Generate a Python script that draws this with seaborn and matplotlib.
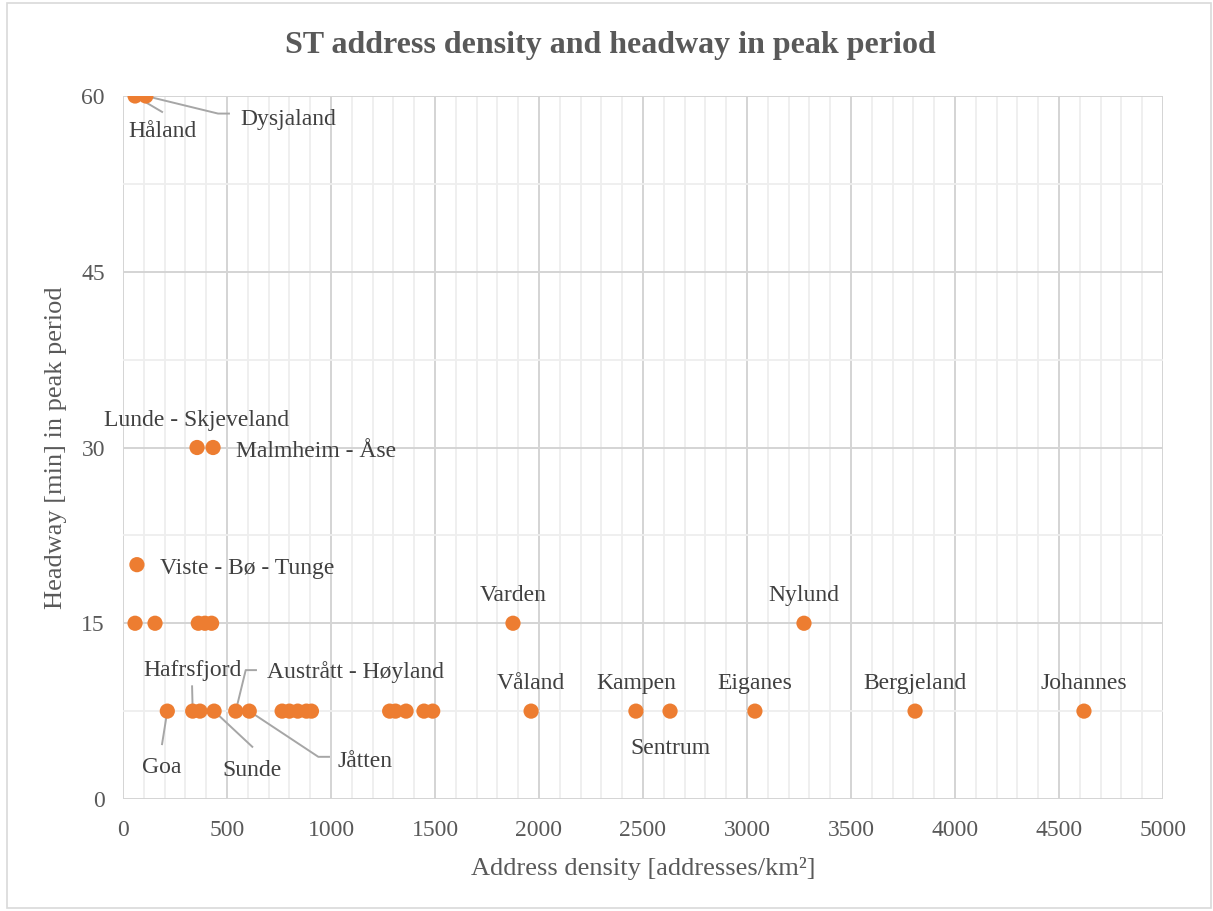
import matplotlib
matplotlib.use("Agg")
import matplotlib.pyplot as plt
from matplotlib.ticker import MultipleLocator
from matplotlib.patches import Rectangle
import seaborn as sns
import pandas as pd

# Zones: address density [addresses/km2] and peak-period headway [min]
zone = ["Håland", "Dysjaland",
        "Lunde - Skjeveland", "Malmheim - Åse",
        "Viste - Bø - Tunge",
        "", "", "", "", "", "Varden", "Nylund",
        "Goa", "Hafrsfjord", "", "Sunde", "Austrått - Høyland", "Jåtten",
        "", "", "", "", "", "", "", "", "", "",
        "Våland", "Kampen", "Sentrum", "Eiganes", "Bergjeland", "Johannes"]
density = [58, 110,
           356, 433,
           67,
           58, 154, 362, 394, 426, 1875, 3274,
           213, 335, 370, 438, 542, 607,
           765, 800, 840, 882, 906, 1282, 1310, 1361, 1447, 1489,
           1962, 2466, 2630, 3038, 3808, 4620]
headway = [60, 60,
           30, 30,
           20,
           15, 15, 15, 15, 15, 15, 15,
           7.5, 7.5, 7.5, 7.5, 7.5, 7.5,
           7.5, 7.5, 7.5, 7.5, 7.5, 7.5, 7.5, 7.5, 7.5, 7.5,
           7.5, 7.5, 7.5, 7.5, 7.5, 7.5]

df = pd.DataFrame({"zone": zone, "density": density, "headway": headway})

# Label placement: text anchor (x, y, ha) and optional leader-line path
label_layout = {
    "Håland": (192, 57.0, "center", [(192, 58.6)]),
    "Dysjaland": (562, 58.0, "left", [(457, 58.5), (514, 58.5)]),
    "Lunde - Skjeveland": (356, 32.3, "center", None),
    "Malmheim - Åse": (543, 29.7, "left", None),
    "Viste - Bø - Tunge": (178, 19.7, "left", None),
    "Varden": (1875, 17.35, "center", None),
    "Nylund": (3274, 17.35, "center", None),
    "Hafrsfjord": (332, 11.0, "center", [(332, 9.7)]),
    "Austrått - Høyland": (692, 10.8, "left", [(590, 11.0), (644, 11.0)]),
    "Goa": (187, 2.7, "center", [(187, 4.6)]),
    "Sunde": (620, 2.4, "center", [(625, 4.4)]),
    "Jåtten": (1163, 3.2, "center", [(939, 3.6), (995, 3.6)]),
    "Våland": (1962, 9.85, "center", None),
    "Kampen": (2466, 9.85, "center", None),
    "Sentrum": (2630, 4.3, "center", None),
    "Eiganes": (3038, 9.85, "center", None),
    "Bergjeland": (3808, 9.85, "center", None),
    "Johannes": (4620, 9.85, "center", None),
}

sns.set_style("white")
plt.rcParams["font.family"] = ["Liberation Serif", "DejaVu Serif"]
text_color = "#595959"
orange = "#ED7D31"

fig = plt.figure(figsize=(12.13, 9.11), dpi=100)
ax = fig.add_axes([123 / 1213, 1 - 799 / 911, 1040 / 1213, 703 / 911])

sns.scatterplot(data=df, x="density", y="headway", ax=ax, color=orange,
                s=120, edgecolor="none", linewidth=0, zorder=5, legend=False)

ax.set_xlim(0, 5000)
ax.set_ylim(0, 60)
ax.xaxis.set_major_locator(MultipleLocator(500))
ax.xaxis.set_minor_locator(MultipleLocator(100))
ax.yaxis.set_major_locator(MultipleLocator(15))
ax.yaxis.set_minor_locator(MultipleLocator(7.5))
ax.grid(which="major", color="#D4D4D4", linewidth=1.4, zorder=0)
ax.grid(which="minor", color="#EEEEEE", linewidth=1.3, zorder=0)
ax.set_axisbelow(True)
for side in ["top", "right", "left", "bottom"]:
    ax.spines[side].set_visible(False)
ax.tick_params(axis="both", which="both", length=0, labelsize=17,
               labelcolor=text_color)
ax.tick_params(axis="x", pad=15)
ax.tick_params(axis="y", pad=13)

ax.set_xlabel("Address density [addresses/km²]", fontsize=19,
              color=text_color, labelpad=12)
ax.set_ylabel("Headway [min] in peak period", fontsize=19,
              color=text_color, labelpad=10)

fig.text(0.5035, 1 - 46 / 911, "ST address density and headway in peak period",
         ha="center", va="center", fontsize=23, fontweight="bold",
         color=text_color)

for name, x0, y0 in zip(df["zone"], df["density"], df["headway"]):
    if not name:
        continue
    tx, ty, ha, path = label_layout[name]
    ax.text(tx, ty, name, ha=ha, va="center", fontsize=17, color="#404040",
            zorder=6)
    if path:
        xs = [x0] + [p[0] for p in path]
        ys = [y0] + [p[1] for p in path]
        ax.plot(xs, ys, color="#A6A6A6", linewidth=1.4, zorder=4,
                solid_capstyle="butt")

fig.patches.append(Rectangle((7 / 1213, 3 / 911), 1204 / 1213, 905 / 911,
                             transform=fig.transFigure, fill=False,
                             edgecolor="#D9D9D9", linewidth=1.2))

fig.savefig("out.png", dpi=100)
